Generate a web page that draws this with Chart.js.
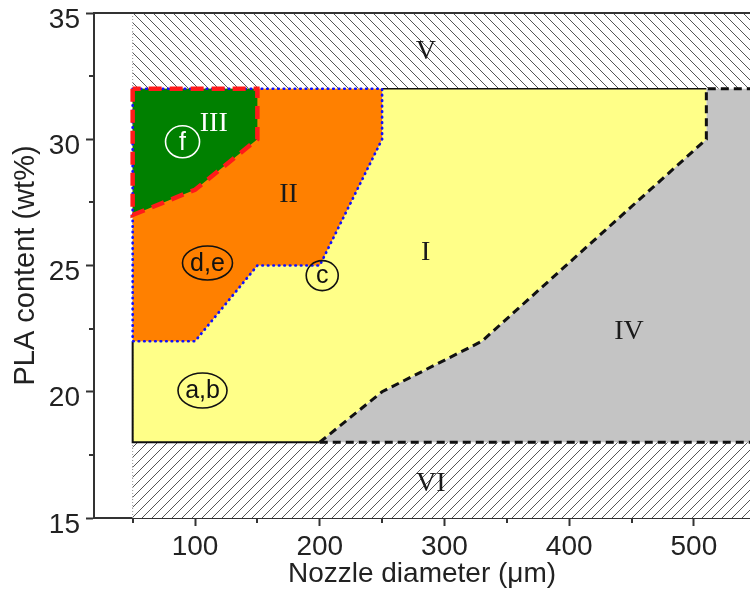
<!DOCTYPE html>
<html>
<head>
<meta charset="utf-8">
<script src="https://cdn.jsdelivr.net/npm/chart.js@4.4.1/dist/chart.umd.min.js"></script>
<style>
  html, body { margin: 0; padding: 0; background: #fff; }
  #wrap { width: 750px; height: 593px; }
</style>
</head>
<body>
<div id="wrap"><canvas id="map" width="750" height="593"></canvas></div>
<script>
// axes
const xRange = [19, 545];
const yRange = [15, 35];
const xTicks = [100, 200, 300, 400, 500];
const xMinorTicks = [50, 150, 250, 350, 450];
const yTicks = [15, 20, 25, 30, 35];
const yMinorTicks = [17.5, 22.5, 27.5, 32.5];

// printing zones as [nozzle diameter (um), PLA content (wt%)]
const zoneI   = [[50, 18], [200, 18], [250, 20], [330, 22], [510, 30], [510, 32], [50, 32]];
const zoneII  = [[50, 22], [100, 22], [150, 25], [200, 25], [250, 30], [250, 32], [50, 32]];
const zoneIII = [[50, 27], [100, 28], [150, 30], [150, 32], [50, 32]];
const zoneIV  = [[200, 18], [250, 20], [330, 22], [510, 30], [510, 32], [545, 32], [545, 18]];
const zoneV   = [[50, 32], [545, 32], [545, 35], [50, 35]];
const zoneVI  = [[50, 15], [545, 15], [545, 18], [50, 18]];

// zone boundaries
const edgeSolidLow = [[50, 22], [50, 18], [200, 18]];
const edgeSolidTop = [[250, 32], [510, 32]];
const edgeIVUpper  = [[200, 18], [250, 20], [330, 22], [510, 30], [510, 32], [545, 32]];
const edgeIVLower  = [[200, 18], [545, 18]];
const edgeII       = [[50, 32], [50, 22], [100, 22], [150, 25], [200, 25], [250, 30], [250, 32], [50, 32]];
const edgeIII      = [[50, 32], [50, 27], [100, 28], [150, 30], [150, 32], [50, 32]];
const edgeLeft     = [[50, 15], [50, 35]];

// zone names
const zoneNames = ['I', 'II', 'III', 'IV', 'V', 'VI'];
const zoneNameX = [285, 175, 115, 448, 285, 289];
const zoneNameY = [25.5, 27.8, 30.6, 22.4, 33.45, 16.35];

// sample groups
const sampleNames = ['f', 'd,e', 'c', 'a,b'];
const sampleX = [90, 110, 202, 106];
const sampleY = [29.9, 25.1, 24.6, 20.05];

const pts = arr => arr.map(([x, y]) => ({ x, y }));

function hatch(dir) {
    const c = document.createElement('canvas');
    c.width = c.height = 10;
    const g = c.getContext('2d');
    g.fillStyle = '#fff';
    g.fillRect(0, 0, 10, 10);
    g.strokeStyle = '#555';
    g.lineWidth = 1;
    g.beginPath();
    if (dir === 'down') {
        g.moveTo(-1, -1); g.lineTo(11, 11);
        g.moveTo(-1, 9); g.lineTo(1, 11);
        g.moveTo(9, -1); g.lineTo(11, 1);
    } else {
        g.moveTo(-1, 11); g.lineTo(11, -1);
        g.moveTo(-1, 1); g.lineTo(1, -1);
        g.moveTo(9, 11); g.lineTo(11, 9);
    }
    g.stroke();
    return g.createPattern(c, 'repeat');
}

function area(points, color, order) {
    return {
        data: pts(points), showLine: true, fill: 'shape',
        backgroundColor: color, borderWidth: 0, borderColor: 'rgba(0,0,0,0)',
        pointRadius: 0, order,
    };
}

function edge(points, color, width, dash, order, cap) {
    return {
        data: pts(points), showLine: true, fill: false,
        borderColor: color, borderWidth: width, borderDash: dash,
        borderCapStyle: cap || 'butt', borderJoinStyle: 'miter',
        pointRadius: 0, order,
    };
}

const markerShape = {
    'f':   { rx: 17, ry: 16, color: '#fff' },
    'd,e': { rx: 25, ry: 17, color: '#111' },
    'c':   { rx: 16, ry: 15, color: '#111' },
    'a,b': { rx: 24.5, ry: 17.5, color: '#111' },
};

const decorations = {
    id: 'decorations',
    afterDatasetsDraw(chart) {
        const { ctx, scales: { x, y } } = chart;
        ctx.save();
        ctx.textAlign = 'center';
        ctx.textBaseline = 'middle';

        ctx.font = '28px "Liberation Serif", "Times New Roman", serif';
        zoneNames.forEach((t, i) => {
            ctx.fillStyle = t === 'III' ? '#fff' : '#1a1a1a';
            ctx.fillText(t, x.getPixelForValue(zoneNameX[i]), y.getPixelForValue(zoneNameY[i]));
        });

        ctx.font = '25px "Liberation Sans", Arial, sans-serif';
        ctx.lineWidth = 1.6;
        sampleNames.forEach((t, i) => {
            const s = markerShape[t];
            const px = x.getPixelForValue(sampleX[i]);
            const py = y.getPixelForValue(sampleY[i]);
            ctx.strokeStyle = s.color;
            ctx.fillStyle = s.color;
            ctx.beginPath();
            ctx.ellipse(px, py, s.rx, s.ry, 0, 0, Math.PI * 2);
            ctx.stroke();
            ctx.fillText(t, px, py + 1);
        });
        ctx.restore();
    },
    afterDraw(chart) {
        const { ctx, chartArea: area, scales: { x, y } } = chart;
        ctx.save();
        ctx.strokeStyle = '#333';
        ctx.lineWidth = 2;
        ctx.beginPath();
        ctx.moveTo(area.left - 1, area.top);
        ctx.lineTo(area.right, area.top);
        // minor ticks
        xMinorTicks.forEach(v => {
            const px = Math.round(x.getPixelForValue(v));
            ctx.moveTo(px, area.bottom);
            ctx.lineTo(px, area.bottom + 5);
        });
        yMinorTicks.forEach(v => {
            const py = Math.round(y.getPixelForValue(v));
            ctx.moveTo(area.left, py);
            ctx.lineTo(area.left - 5, py);
        });
        ctx.stroke();
        ctx.restore();
    },
};

const axisFont = { family: '"Liberation Sans", Arial, sans-serif', size: 28 };

new Chart(document.getElementById('map'), {
    type: 'scatter',
    data: {
        datasets: [
            area(zoneV, hatch('down'), 20),
            area(zoneVI, hatch('up'), 20),
            area(zoneI, '#ffff88', 19),
            area(zoneIV, '#c4c4c4', 19),
            area(zoneII, '#ff8000', 18),
            area(zoneIII, '#008000', 17),
            edge(edgeLeft, '#999', 1, [1, 2], 10),
            edge(edgeSolidLow, '#111', 2, [], 9),
            edge(edgeSolidTop, '#111', 1.5, [], 9),
            edge(edgeIVUpper, '#111', 3, [8, 5], 8),
            edge(edgeIVLower, '#111', 3, [8, 5], 8),
            edge(edgeII, '#1010ff', 2.7, [0.5, 5], 7, 'round'),
            edge(edgeIII, '#ff1a1a', 4.5, [13, 8], 6),
        ],
    },
    options: {
        responsive: false,
        animation: false,
        events: [],
        layout: { padding: { top: 13, right: 0, left: 0, bottom: 0 } },
        plugins: {
            legend: { display: false },
            tooltip: { enabled: false },
        },
        scales: {
            x: {
                type: 'linear',
                min: xRange[0],
                max: xRange[1],
                afterBuildTicks: s => { s.ticks = xTicks.map(v => ({ value: v })); },
                afterFit: s => { s.height = 75; s.paddingLeft = 0; s.paddingRight = 0; },
                ticks: { color: '#222', font: axisFont, padding: 4, maxRotation: 0, autoSkip: false },
                grid: { drawOnChartArea: false, tickLength: 8, tickWidth: 2, tickColor: '#333' },
                border: { color: '#333', width: 2 },
                title: { display: true, text: 'Nozzle diameter (μm)', color: '#222', font: axisFont, padding: { top: 0, bottom: 2 } },
            },
            y: {
                type: 'linear',
                min: yRange[0],
                max: yRange[1],
                afterBuildTicks: s => { s.ticks = yTicks.map(v => ({ value: v })); },
                afterFit: s => { s.width = 94; s.paddingTop = 0; s.paddingBottom = 0; },
                ticks: { color: '#222', font: axisFont, padding: 6, labelOffset: 7 },
                grid: { drawOnChartArea: false, tickLength: 8, tickWidth: 2, tickColor: '#333' },
                border: { color: '#333', width: 2 },
                title: { display: true, text: 'PLA content (wt%)', color: '#222', font: { ...axisFont, size: 29 }, padding: { top: 9, bottom: 0 } },
            },
        },
    },
    plugins: [decorations],
});
</script>
</body>
</html>
